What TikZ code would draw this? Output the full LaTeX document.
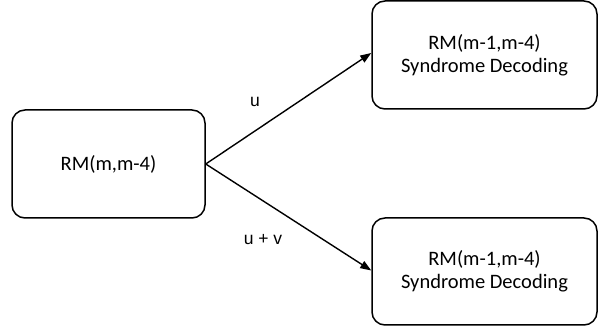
\documentclass[tikz,border=0pt]{standalone}
\usepackage{fontspec}
\setmainfont{Carlito}
\newfontfamily\lblfont{Liberation Sans}
\usetikzlibrary{arrows.meta}
\begin{document}
\begin{tikzpicture}[x=1pt,y=1pt,
  box/.style={draw,line width=1.5pt,rounded corners=13pt,align=center,font=\fontsize{20.5}{23}\selectfont,inner sep=0pt},
  conn/.style={line width=1.4pt,-{Triangle[length=11pt,width=8pt]}},
  lbl/.style={font=\lblfont\fontsize{17.5}{21}\selectfont}]
\useasboundingbox (0,0) rectangle (598,328);
\node[box,minimum width=193pt,minimum height=108pt] (src) at (108.5,164) {RM(m,m-4)};
\node[box,minimum width=225pt,minimum height=108pt] (top) at (484.5,273) {RM(m-1,m-4)\\Syndrome Decoding};
\node[box,minimum width=225pt,minimum height=107pt] (bot) at (484.5,56.5) {RM(m-1,m-4)\\Syndrome Decoding};
\draw[conn] (src.east) -- ([yshift=2pt]top.west);
\draw[conn] (src.east) -- ([yshift=1pt]bot.west);
\node[lbl] (lu) at (255,226) {u};
\node[lbl] (luv) at (263,88) {u + v};
\end{tikzpicture}
\end{document}
